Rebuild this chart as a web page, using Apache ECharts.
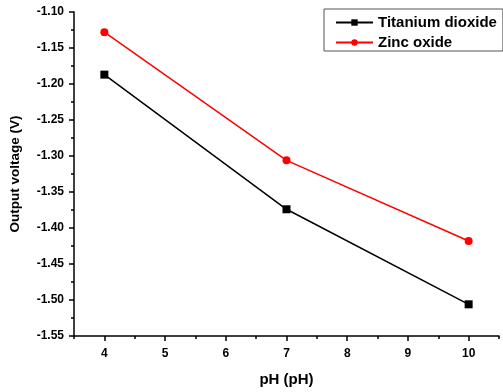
<!DOCTYPE html>
<html>
<head>
<meta charset="utf-8">
<script src="https://cdn.jsdelivr.net/npm/echarts@6/dist/echarts.min.js"></script>
<style>
  html, body { margin: 0; padding: 0; background: #fff; }
  #chart { width: 503px; height: 392px; }
</style>
</head>
<body>
<div id="chart"></div>
<script>
// data
const phValues = [4, 7, 10];
const titaniumDioxide = [-1.187, -1.374, -1.506];
const zincOxide = [-1.128, -1.306, -1.418];
const seriesNames = ['Titanium dioxide', 'Zinc oxide'];

const font = 'Liberation Sans, Arial, sans-serif';
const chart = echarts.init(document.getElementById('chart'));

const option = {
  backgroundColor: '#fff',
  animation: false,
  grid: { left: 73, right: 4, top: 12, bottom: 55 },
  legend: {
    orient: 'vertical',
    left: 324,
    top: 9,
    padding: [6, 6, 1, 11],
    itemGap: 5,
    itemWidth: 37,
    itemHeight: 8,
    borderColor: '#555',
    borderWidth: 1,
    textStyle: { fontFamily: font, fontWeight: 'bold', fontSize: 15, lineHeight: 15, color: '#000' },
    data: seriesNames,
  },
  xAxis: [
    {
      // axis line + short half-unit ticks
      type: 'value',
      min: 3.5,
      max: 10.5,
      interval: 0.5,
      axisLine: { show: true, lineStyle: { color: '#000', width: 1.5 } },
      axisTick: { show: true, length: 3, lineStyle: { color: '#000', width: 1.5 } },
      axisLabel: { show: false },
      splitLine: { show: false },
    },
    {
      // long ticks and labels at whole units
      type: 'value',
      min: 3.5,
      max: 10.5,
      splitNumber: 7,
      position: 'bottom',
      name: 'pH (pH)',
      nameLocation: 'middle',
      nameGap: 36,
      nameTextStyle: { fontFamily: font, fontWeight: 'bold', fontSize: 15, color: '#000' },
      axisLine: { show: false },
      axisTick: { show: true, length: 5, lineStyle: { color: '#000', width: 1.5 } },
      axisLabel: {
        fontFamily: font, fontWeight: 'bold', fontSize: 12, color: '#000', margin: 12,
        showMinLabel: false, showMaxLabel: false,
        formatter: (v) => (Number.isInteger(v) ? String(v) : ''),
      },
      splitLine: { show: false },
    },
  ],
  yAxis: {
    type: 'value',
    min: -1.55,
    max: -1.10,
    interval: 0.05,
    name: 'Output voltage (V)',
    nameLocation: 'middle',
    nameGap: 52,
    nameTextStyle: { fontFamily: font, fontWeight: 'bold', fontSize: 13.5, color: '#000' },
    axisLine: { show: true, lineStyle: { color: '#000', width: 1.5 } },
    axisTick: { show: true, length: 5, lineStyle: { color: '#000', width: 1.5 } },
    minorTick: { show: true, splitNumber: 2, length: 3, lineStyle: { color: '#000', width: 1.5 } },
    axisLabel: {
      fontFamily: font, fontWeight: 'bold', fontSize: 12, color: '#000', margin: 10,
      formatter: (v) => v.toFixed(2),
    },
    splitLine: { show: false },
  },
  series: [
    {
      name: seriesNames[0],
      type: 'line',
      xAxisIndex: 0,
      data: phValues.map((x, i) => [x, titaniumDioxide[i]]),
      symbol: 'rect',
      symbolSize: 8,
      itemStyle: { color: '#000' },
      lineStyle: { color: '#000', width: 1.5 },
    },
    {
      name: seriesNames[1],
      type: 'line',
      xAxisIndex: 0,
      data: phValues.map((x, i) => [x, zincOxide[i]]),
      symbol: 'circle',
      symbolSize: 8,
      itemStyle: { color: '#f00' },
      lineStyle: { color: '#f00', width: 1.5 },
    },
  ],
};

chart.setOption(option);
</script>
</body>
</html>
